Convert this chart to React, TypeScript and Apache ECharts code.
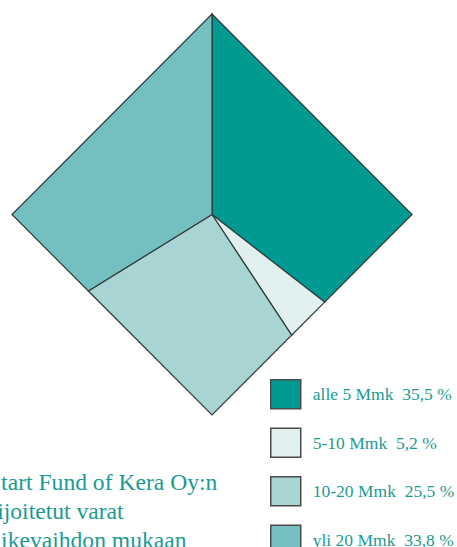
import React, { useEffect, useRef } from "react";
import * as echarts from "echarts";

const categories = ["alle 5 Mmk", "5-10 Mmk", "10-20 Mmk", "yli 20 Mmk"];
const shares = [35.5, 5.2, 25.5, 33.8];
const shareLabels = ["35,5 %", "5,2 %", "25,5 %", "33,8 %"];
const colors = ["#009a93", "#dff0ef", "#a8d4d4", "#74bfbf"];
const titleLines = ["Start Fund of Kera Oy:n", "sijoitetut varat", "liikevaihdon mukaan"];

const TEAL = "#1a9a94";
const FONT = "'Liberation Serif', 'Times New Roman', serif";

function edgePoint(angleDeg: number): [number, number] {
  const a = (angleDeg * Math.PI) / 180;
  const dx = Math.sin(a);
  const dy = Math.cos(a);
  const t = 1 / (Math.abs(dx) + Math.abs(dy));
  return [dx * t, dy * t];
}

function slicePoints(i: number): [number, number][] {
  const total = shares.reduce((s, v) => s + v, 0);
  let start = 0;
  for (let k = 0; k < i; k++) start += shares[k];
  const a0 = (start / total) * 360;
  const a1 = ((start + shares[i]) / total) * 360;
  const pts: [number, number][] = [[0, 0], edgePoint(a0)];
  for (let v = 0; v <= 360; v += 90) {
    if (v > a0 && v < a1) pts.push(edgePoint(v));
  }
  pts.push(edgePoint(a1));
  return pts;
}

export default function App() {
  const ref = useRef<HTMLDivElement>(null);
  useEffect(() => {
    if (!ref.current) return;
    const chart = echarts.init(ref.current, null, { renderer: "svg" });
    const series = categories.map((name, i) => ({
      type: "custom",
      name,
      coordinateSystem: "cartesian2d",
      data: [[0, 0, shares[i]]],
      itemStyle: { color: colors[i], borderColor: "#333", borderWidth: 1 },
      renderItem: (params: any, api: any) => {
        const pts = slicePoints(params.seriesIndex).map((p) => api.coord(p));
        return {
          type: "polygon",
          shape: { points: pts },
          style: { fill: colors[i], stroke: "#2f3a3a", lineWidth: 1.2, lineJoin: "miter" },
        };
      },
    }));
    chart.setOption({
      animation: false,
      grid: { left: 12, right: 45, top: 14, bottom: 132 },
      xAxis: { type: "value", min: -1, max: 1, show: false },
      yAxis: { type: "value", min: -1, max: 1, show: false },
      legend: {
        type: "plain",
        orient: "vertical",
        left: 270,
        top: 379,
        height: 220,
        padding: 0,
        itemWidth: 30,
        itemHeight: 29,
        itemGap: 18,
        icon: "rect",
        selectedMode: false,
        itemStyle: { borderColor: "#4a4a4a", borderWidth: 1.5 },
        formatter: (name: string) => {
          const i = categories.indexOf(name);
          return name + "\u00a0\u00a0" + shareLabels[i];
        },
        textStyle: { color: TEAL, fontFamily: FONT, fontSize: 17.5, padding: [0, 0, 0, 7] },
        data: categories,
      },
      graphic: [
        {
          type: "text",
          x: -12,
          y: 467,
          style: {
            text: titleLines.join("\n"),
            font: `23.6px ${FONT}`,
            fill: TEAL,
            lineHeight: 29,
            verticalAlign: "top",
          },
        },
      ],
      series,
    });
    return () => chart.dispose();
  }, []);
  return (
    <div
      ref={ref}
      style={{ position: "absolute", left: 0, top: 0, width: 457, height: 547 }}
    />
  );
}
